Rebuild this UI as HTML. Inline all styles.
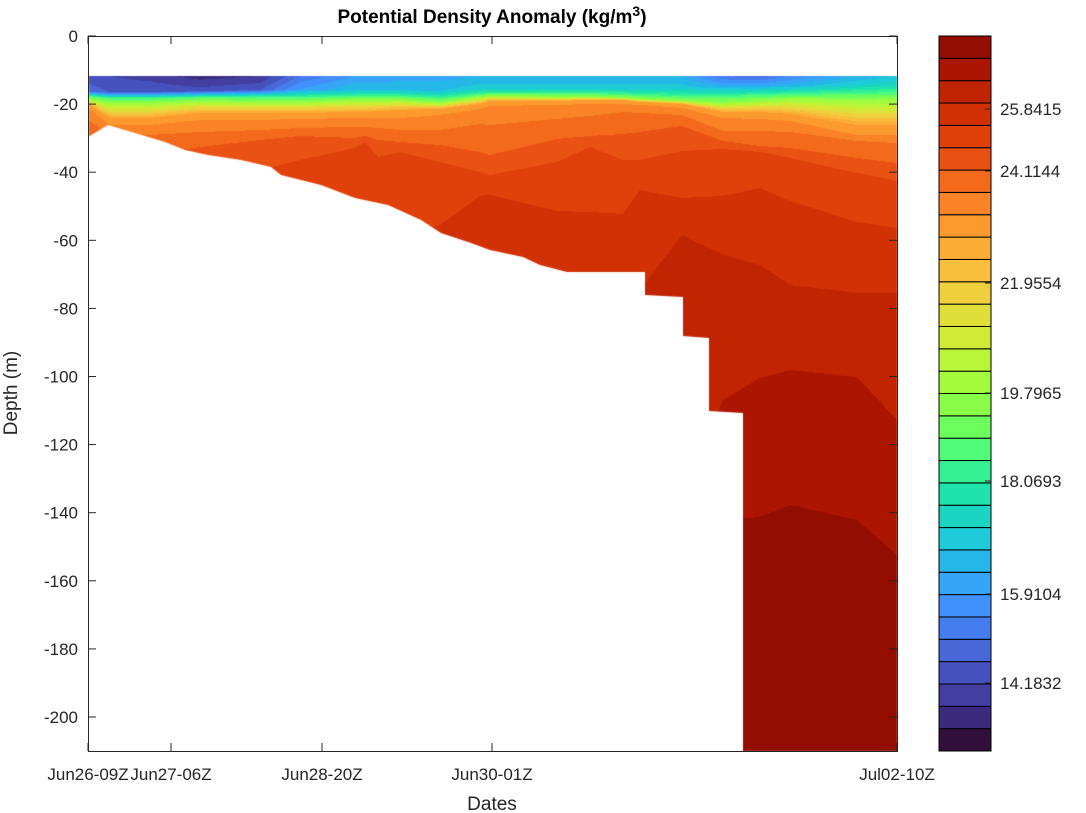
<!DOCTYPE html>
<html><head><meta charset="utf-8"><style>
body{margin:0;background:#fff;width:1086px;height:813px;overflow:hidden;font-family:"Liberation Sans","DejaVu Sans",sans-serif}
#c{position:absolute;left:0;top:0}
svg{position:absolute;left:0;top:0}
</style></head><body>
<canvas id="c" width="1086" height="813"></canvas>
<svg width="1086" height="813" xmlns="http://www.w3.org/2000/svg" font-family="Liberation Sans, DejaVu Sans, sans-serif" font-size="17" fill="#262626">
<g id="cb"></g>
<rect x="88.5" y="36.5" width="809" height="715" fill="none" stroke="#262626" stroke-width="1"/>
<g stroke="#262626" stroke-width="1" id="ticks"></g>
<g text-anchor="end" id="yl"></g>
<g text-anchor="middle">
<text x="88" y="780">Jun26-09Z</text><text x="171" y="780">Jun27-06Z</text><text x="322" y="780">Jun28-20Z</text><text x="492" y="780">Jun30-01Z</text><text x="897" y="780">Jul02-10Z</text>
<text x="492" y="810" font-size="19">Dates</text>
<text transform="translate(17,393) rotate(-90)" font-size="19">Depth  (m)</text>
<text x="492" y="23" font-weight="bold" fill="#000" font-size="19">Potential Density Anomaly (kg/m<tspan dy="-7" font-size="14">3</tspan><tspan dy="7">)</tspan></text>
</g>
<g id="cl"></g>
</svg>
<script>
var cols=["#30103a","#3b2b7c","#433ea0","#4552be","#4868d8","#467dee","#4190fc","#36a5f7","#25b7e8","#1fcbd8","#19d5c2","#1ee3ac","#33f193","#50fb7a","#6cfe5c","#88fe49","#a2fb3c","#b9f637","#cfeb35","#e0de38","#efcf3c","#f8be3c","#fcad36","#fc9a2e","#f98326","#f46a1c","#ea5214","#e0400a","#d23005","#c02400","#ac1600","#930d00"];
// x, vs, yA, vA, yB(v13), y16, y23,y24,y25,y26,y27,y28,y29,y30,y31
var K=[
[88,3.5,91,4.5,96,99,104,108,120,150,200,250,300,350,400],
[110,3,92,4,98,103,118,125,135,160,200,250,300,350,400],
[150,2.5,92,4,98,103,118,125,135,155,200,250,300,350,400],
[200,1.5,91,3.5,97,101,113,120,132,147,190,250,300,350,400],
[260,2,90,4,97,102,113,120,130,140,170,250,300,350,400],
[300,5,89,7,97,102,113,119,128,136,160,230,300,350,400],
[355,7,90,9,96,100,112,118,127,138,148,230,300,350,400],
[365,7,90,9,96,100,112,118,127,136,142,230,300,350,400],
[378,7,90,9,96,100,111,118,128,140,157,235,300,350,400],
[400,7.5,90,9,96,100,110,118,130,142,152,240,300,350,400],
[440,7.5,91,9,98,103,109,115,130,145,162,225,300,350,400],
[480,8,88,9.5,94,97,104,109,124,152,172,196,300,400,500],
[490,8,88,9.5,93,96,101,106,125,155,175,195,300,400,500],
[557,8,88,9.5,93,97,101,105,119,139,162,211,300,400,500],
[590,8,88,9.5,93,97,100,104,116,136,147,212,300,400,500],
[623,8,88,9.5,94,98,100,104,112,134,160,214,300,400,500],
[640,8,88,9.5,95,99,102,105,113,132,160,190,290,420,550],
[682,8,88,9.5,96,101,104,108,115,126,151,198,235,500,600],
[723,5,86,8,96,103,112,118,131,141,149,196,255,400,520],
[760,4.5,86,8,95,101,112,119,131,146,152,188,265,378,517],
[790,6,86,8.5,94,99,114,121,132,148,158,201,285,370,505],
[857,8,85,10,93,100,125,135,141,158,173,222,293,377,520],
[897,9,84,10.5,92,100,125,135,143,163,181,228,293,420,555]];
var cv=document.getElementById('c'),g=cv.getContext('2d');
function colAt(x){var i=0;while(i<K.length-2&&K[i+1][0]<x)i++;var a=K[i],b=K[i+1],t=(x-a[0])/(b[0]-a[0]);t=Math.max(0,Math.min(1,t));var r=[];for(var j=1;j<a.length;j++)r.push(a[j]+(b[j]-a[j])*t);return r;}
for(var x=89;x<897;x++){var c=colAt(x+0.5);
 var ys=[76,c[1],c[3],c[4],c[5],c[6],c[7],c[8],c[9],c[10],c[11],c[12],c[13],751];
 var vs=[c[0],c[2],13,16,23,24,25,26,27,28,29,30,31,31.99];
 var prev=-1,start=76;
 for(var y=76;y<751;y++){var k=0;while(k<ys.length-2&&ys[k+1]<y+0.5)k++;var t=(y+0.5-ys[k])/(ys[k+1]-ys[k]);var v=vs[k]+(vs[k+1]-vs[k])*t;var b=Math.max(0,Math.min(31,Math.floor(v)));
  if(b!==prev){if(prev>=0){g.fillStyle=cols[prev];g.fillRect(x,start,1,y-start);}prev=b;start=y;}}
 g.fillStyle=cols[prev];g.fillRect(x,start,1,751-start);}
g.fillStyle="#fff";g.beginPath();
var m=[[88,137],[108,125],[165,142],[185,150],[208,155],[241,160],[271,167],[281,175],[321,185],[355,198],[388,205],[421,220],[441,233],[471,243],[490,250],[523,257],[540,265],[567,272],[645,272],[645,295],[683,297],[683,336],[709,338],[709,411],[743,413],[743,752],[88,752]];
g.moveTo(m[0][0],m[0][1]);for(var i=1;i<m.length;i++)g.lineTo(m[i][0],m[i][1]);g.closePath();g.fill();
var ns="http://www.w3.org/2000/svg";
function el(p,t,a,txt){var e=document.createElementNS(ns,t);for(var k in a)e.setAttribute(k,a[k]);if(txt)e.textContent=txt;document.getElementById(p).appendChild(e);}
var h=715/32;
for(var i=0;i<32;i++){el('cb','rect',{x:939,y:36+(31-i)*h,width:52,height:h,fill:cols[i],stroke:"#000","stroke-width":1});}
for(var d=0;d<=200;d+=20){var y=36+d*3.405;el('ticks','line',{x1:88,x2:96,y1:y,y2:y});el('ticks','line',{x1:889,x2:897,y1:y,y2:y});el('yl','text',{x:78,y:y+6},d==0?"0":"-"+d);}
[88,171,322,492,897].forEach(function(x){el('ticks','line',{x1:x,x2:x,y1:751,y2:743});el('ticks','line',{x1:x,x2:x,y1:36,y2:44});});
[["25.8415",109],["24.1144",171],["21.9554",283],["19.7965",393],["18.0693",481],["15.9104",594],["14.1832",683]].forEach(function(a){el('cl','text',{x:1000,y:a[1]+6},a[0]);el('ticks','line',{x1:985,x2:991,y1:a[1],y2:a[1]});});
</script>
</body></html>
